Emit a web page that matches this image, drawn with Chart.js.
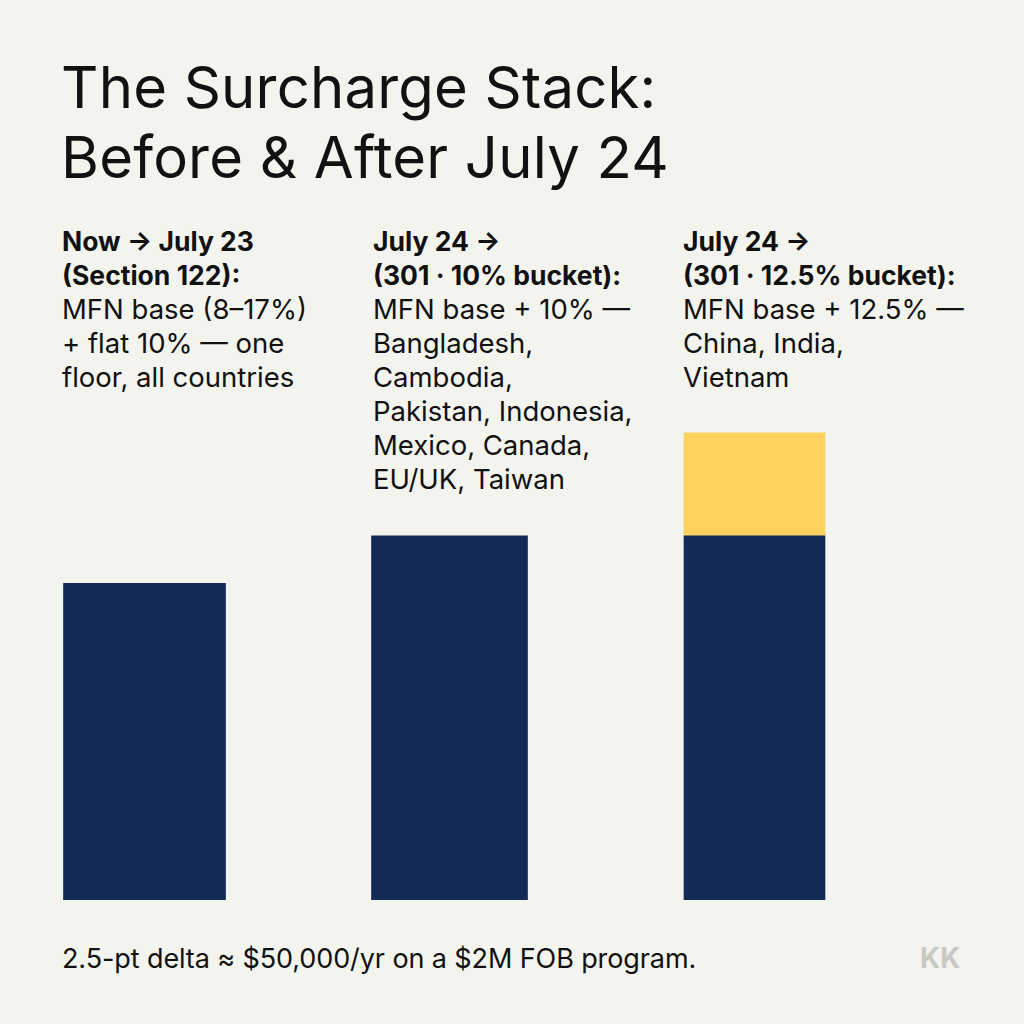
<!DOCTYPE html>
<html>
<head>
<meta charset="utf-8">
<script src="https://cdn.jsdelivr.net/npm/chart.js@4.4.1/dist/chart.umd.min.js"></script>
<style>
  html, body { margin: 0; padding: 0; }
  body {
    width: 1024px; height: 1024px; overflow: hidden; position: relative;
    background: #f4f4ef; color: #111; font-family: Inter, "Noto Sans", sans-serif;
  }
  .title {
    position: absolute; left: 61px; top: 52px; margin: 0;
    font-size: 58px; font-weight: 400; line-height: 70px; letter-spacing: 0.2px;
  }
  .col {
    position: absolute; top: 224px; font-size: 27.5px; line-height: 34px; letter-spacing: 0;
  }
  .col b { font-weight: 700; font-size: 26.5px; }
  #c1 { left: 62px; } #c2 { left: 373px; } #c3 { left: 683px; }
  .foot { position: absolute; left: 62px; top: 942px; font-size: 27px; letter-spacing: -0.1px; }
  .mark { position: absolute; left: 920px; top: 941px; font-size: 28px; font-weight: 700; color: #c9c9c4; }
  #wrap { position: absolute; left: -8px; top: 425px; width: 915px; height: 475px; }
</style>
</head>
<body>
<h1 class="title">The Surcharge Stack:<br>Before &amp; After July 24</h1>
<div class="col" id="c1"></div>
<div class="col" id="c2"></div>
<div class="col" id="c3"></div>
<div class="foot">2.5-pt delta ≈ $50,000/yr on a $2M FOB program.</div>
<div class="mark">KK</div>
<div id="wrap"><canvas id="chart"></canvas></div>
<script>
// categories + headings
const categories = ['Now → July 23', 'July 24 → 10%', 'July 24 → 12.5%'];
const headings = [
  ['Now → July 23', '(Section 122):'],
  ['July 24 →', '(301 · 10% bucket):'],
  ['July 24 →', '(301 · 12.5% bucket):']
];
const notes = [
  ['MFN base (8–17%)', '+ flat 10% — one', 'floor, all countries'],
  ['MFN base + 10% —', 'Bangladesh,', 'Cambodia,', 'Pakistan, Indonesia,', 'Mexico, Canada,', 'EU/UK, Taiwan'],
  ['MFN base + 12.5% —', 'China, India,', 'Vietnam']
];
// series (relative stack height)
const baseStack = [20, 23, 23];
const extraBucket = [0, 0, 6.5];
const yMax = 30;

['c1', 'c2', 'c3'].forEach((id, i) => {
  document.getElementById(id).innerHTML =
    headings[i].map(h => `<b>${h}</b>`).join('<br>') + '<br>' + notes[i].join('<br>');
});

const navy = '#132a57';
const yellow = '#fcd15c';
const widths = [162, 156, 141];

// one dataset per column so each bar can have its own width
const datasets = categories.map((cat, i) => ({
  label: cat,
  data: baseStack.map((v, j) => (j === i ? v : null)),
  backgroundColor: navy,
  barThickness: widths[i],
  borderWidth: 0
}));
datasets.push({
  label: '12.5% bucket',
  data: extraBucket.map(v => (v > 0 ? v : null)),
  backgroundColor: yellow,
  barThickness: widths[2],
  borderWidth: 0
});

new Chart(document.getElementById('chart'), {
  type: 'bar',
  data: { labels: categories, datasets },
  options: {
    responsive: true,
    maintainAspectRatio: false,
    animation: false,
    layout: { padding: 0 },
    plugins: { legend: { display: false }, tooltip: { enabled: false } },
    scales: {
      x: { stacked: true, display: false },
      y: { stacked: true, display: false, min: 0, max: yMax }
    }
  }
});
</script>
</body>
</html>
